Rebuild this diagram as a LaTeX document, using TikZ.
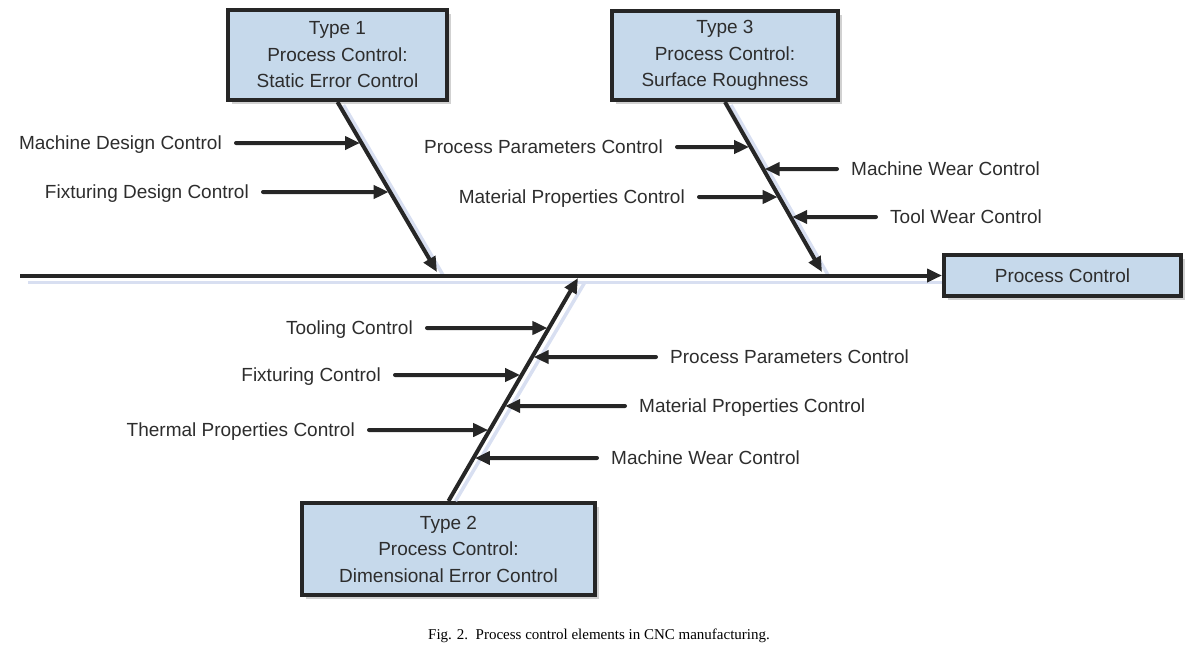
\documentclass[tikz,border=0pt]{standalone}
\usepackage{fontspec}
\setmainfont{Liberation Sans}
\newfontfamily\capfont{Liberation Serif}
\usetikzlibrary{arrows.meta,calc,shadows}
\definecolor{ink}{RGB}{38,38,38}
\definecolor{boxfill}{RGB}{198,217,235}
\definecolor{shade}{RGB}{216,223,241}
\definecolor{txt}{RGB}{45,45,45}
\begin{document}
\begin{tikzpicture}[x=1pt,y=-1pt,
  bone/.style={line width=4pt, draw=ink, -{Triangle[length=15pt,width=13pt]}},
  feed/.style={line width=4pt, draw=ink, line cap=round, -{Triangle[length=15pt,width=13pt]}, shorten >=1.5pt},
  shadowline/.style={line width=3.5pt, draw=shade},
  typebox/.style={draw=ink, line width=4pt, fill=boxfill, align=center,
    font=\fontsize{19}{26.5}\selectfont, text=txt, inner sep=0pt,
    drop shadow={shadow xshift=4pt, shadow yshift=-4pt, opacity=0.3, fill=black!60}},
  lab/.style={font=\fontsize{19}{23}\selectfont, text=txt, text height=13.6pt,
    text depth=0pt, inner ysep=0pt, inner xsep=14pt}]
\useasboundingbox (0,0) rectangle (1197,657);

% boxes
\node[typebox, minimum width=219pt, minimum height=90pt] (t1) at (337.5,55)
  {Type 1\\Process Control:\\Static Error Control};
\node[typebox, minimum width=226pt, minimum height=89pt] (t3) at (725,55.5)
  {Type 3\\Process Control:\\Surface Roughness};
\node[typebox, minimum width=293pt, minimum height=92pt] (t2) at (448.5,549)
  {Type 2\\Process Control:\\Dimensional Error Control};
\node[typebox, minimum width=237pt, minimum height=41pt] (pc) at (1062.5,275.5)
  {Process Control};

% spine and bone ends
\coordinate (ms) at (20,275.5);
\coordinate (e1) at (437,272);
\coordinate (e3) at (822,272);
\coordinate (e2) at (578,278);

% shadows of spine and bones
\draw[shadowline] ($(ms)+(8,7)$) -- ($(pc.west)+(0,7)$);
\draw[shadowline] ($(t1.south)+(6,3)$) -- ($(e1)+(6,3)$);
\draw[shadowline] ($(t3.south)+(6,3)$) -- ($(e3)+(6,3)$);
\draw[shadowline] ($(t2.north)+(7,0)$) -- ($(e2)+(7,4)$);

% spine and bones
\draw[bone] (ms) -- (pc.west);
\draw[bone] (t1.south) -- (e1);
\draw[bone] (t3.south) -- (e3);
\draw[bone] (t2.north) -- (e2);

% tips on bones
\coordinate (a1) at ($(t1.south)!0.2412!(e1)$);
\coordinate (a2) at ($(t1.south)!0.5294!(e1)$);
\coordinate (c1) at ($(t3.south)!0.2647!(e3)$);
\coordinate (c2) at ($(t3.south)!0.3941!(e3)$);
\coordinate (c3) at ($(t3.south)!0.5588!(e3)$);
\coordinate (c4) at ($(t3.south)!0.6765!(e3)$);
\coordinate (b1) at ($(t2.north)!0.7758!(e2)$);
\coordinate (b2) at ($(t2.north)!0.6457!(e2)$);
\coordinate (b3) at ($(t2.north)!0.5650!(e2)$);
\coordinate (b4) at ($(t2.north)!0.4260!(e2)$);
\coordinate (b5) at ($(t2.north)!0.3184!(e2)$);
\coordinate (b6) at ($(t2.north)!0.1928!(e2)$);

% Type 1 causes
\node[lab, anchor=east] (l1) at (236,143) {Machine Design Control};
\node[lab, anchor=east] (l2) at (263,192) {Fixturing Design Control};
\draw[feed] (l1.east) -- (a1);
\draw[feed] (l2.east) -- (a2);

% Type 3 causes
\node[lab, anchor=east] (m1) at (677,147) {Process Parameters Control};
\node[lab, anchor=west] (m2) at (837,169) {Machine Wear Control};
\node[lab, anchor=east] (m3) at (699,197) {Material Properties Control};
\node[lab, anchor=west] (m4) at (876,217) {Tool Wear Control};
\draw[feed] (m1.east) -- (c1);
\draw[feed] (m2.west) -- (c2);
\draw[feed] (m3.east) -- (c3);
\draw[feed] (m4.west) -- (c4);

% Type 2 causes
\node[lab, anchor=east] (n1) at (427,328) {Tooling Control};
\node[lab, anchor=west] (n2) at (656,357) {Process Parameters Control};
\node[lab, anchor=east] (n3) at (395,375) {Fixturing Control};
\node[lab, anchor=west] (n4) at (625,406) {Material Properties Control};
\node[lab, anchor=east] (n5) at (369,430) {Thermal Properties Control};
\node[lab, anchor=west] (n6) at (597,458) {Machine Wear Control};
\draw[feed] (n1.east) -- (b1);
\draw[feed] (n2.west) -- (b2);
\draw[feed] (n3.east) -- (b3);
\draw[feed] (n4.west) -- (b4);
\draw[feed] (n5.east) -- (b5);
\draw[feed] (n6.west) -- (b6);

% caption
\node[font=\capfont\fontsize{15}{18}\selectfont, text=black] (cap) at (599,636)
  {Fig. 2.\ \ Process control elements in CNC manufacturing.};
\end{tikzpicture}
\end{document}
